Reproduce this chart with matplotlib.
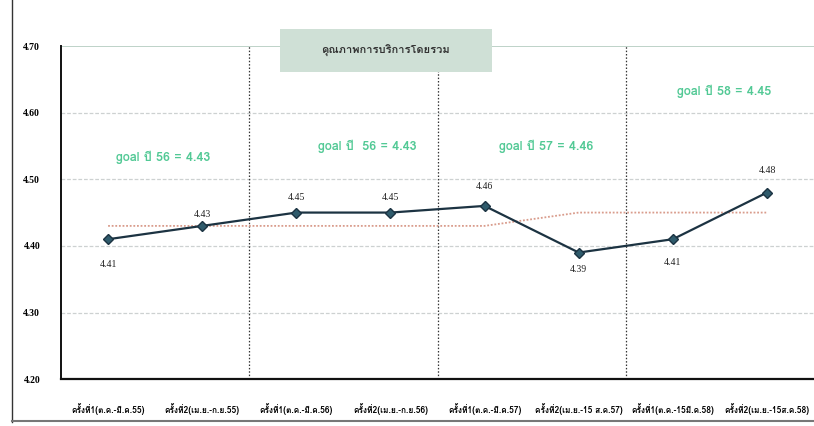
import matplotlib
matplotlib.use("Agg")
import matplotlib.pyplot as plt
from matplotlib import font_manager as fm
from matplotlib.lines import Line2D
from matplotlib.patches import Rectangle

# ---------------- data ----------------
categories = [
    "ครั้งที่1(ต.ค.-มี.ค.55)",
    "ครั้งที่2(เม.ย.-ก.ย.55)",
    "ครั้งที่1(ต.ค.-มี.ค.56)",
    "ครั้งที่2(เม.ย.-ก.ย.56)",
    "ครั้งที่1(ต.ค.-มี.ค.57)",
    "ครั้งที่2(เม.ย.-15 ส.ค.57)",
    "ครั้งที่1(ต.ค.-15มี.ค.58)",
    "ครั้งที่2(เม.ย.-15ส.ค.58)",
]
scores = [4.41, 4.43, 4.45, 4.45, 4.46, 4.39, 4.41, 4.48]
goal = [4.43, 4.43, 4.43, 4.43, 4.43, 4.45, 4.45, 4.45]
goal_texts = ["goal ปี 56 = 4.43", "goal ปี  56 = 4.43", "goal ปี 57 = 4.46", "goal ปี 58 = 4.45"]
goal_text_x = [0.58, 2.75, 4.65, 6.55]
goal_text_y = [4.533, 4.55, 4.55, 4.632]
yticks = [4.20, 4.30, 4.40, 4.50, 4.60, 4.70]
title = "คุณภาพการบริการโดยรวม"
# label offsets in pixels (positive = above the point)
label_offsets = [-25, 11, 15, 15, 19, -17, -23, 22]


def find_thai_font():
    try:
        from fontTools.ttLib import TTFont
    except Exception:
        return None
    for f in fm.fontManager.ttflist:
        try:
            tt = TTFont(f.fname, fontNumber=0, lazy=True)
            cmap = tt.getBestCmap()
            if cmap and 0x0E04 in cmap and 0x0E35 in cmap:
                return f.name
        except Exception:
            pass
    return None


thai = find_thai_font()
fam = ([thai] if thai else []) + ["DejaVu Sans"]
plt.rcParams["font.family"] = fam

fig = plt.figure(figsize=(8.14, 4.26), dpi=100)
ax = fig.add_axes([0.075, 0.110, 0.925, 0.782])

x = list(range(len(categories)))
ax.set_xlim(-0.5, len(categories) - 0.5)
ax.set_ylim(4.20, 4.70)

# grid lines
for yv in yticks[1:-1]:
    ax.axhline(yv, color="#cdd1d1", lw=0.9, ls=(0, (3, 1.5)), zorder=1)
ax.axhline(4.70, color="#b3cbbf", lw=1.2, zorder=1)

# separators
for xv in [1.5, 3.5, 5.5]:
    ax.axvline(xv, color="#333333", lw=0.9, ls=(0, (1.2, 1.5)), zorder=1)

# goal line
ax.plot(x, goal, color="#d99c8c", lw=1.3, ls=(0, (1, 1)), zorder=2)

# main series
ax.plot(x, scores, color="#1c3342", lw=1.6, marker="D", ms=5.5,
        markerfacecolor="#2f5b6c", markeredgecolor="#1c3342", zorder=3)

for i, v in enumerate(scores):
    ax.annotate(f"{v:.2f}", (i, v), xytext=(0, label_offsets[i] * 0.72),
                textcoords="offset points", ha="center", va="center", fontsize=7,
                family=["Liberation Serif"], color="#222222")

for t, tx, ty in zip(goal_texts, goal_text_x, goal_text_y):
    ax.text(tx, ty, t, color="#52c995", fontsize=9, ha="center", va="center",
            fontweight="bold", family=fam)

# axes styling
ax.set_xticks(x)
ax.set_xticklabels(categories, fontsize=6, fontweight="bold", family=fam)
ax.set_yticks(yticks)
ax.set_yticklabels([f"{v:.2f}" for v in yticks], fontsize=7, fontweight="bold",
                   family=["Liberation Serif"])
ax.tick_params(axis="x", length=0, pad=17)
ax.tick_params(axis="y", length=0, pad=15)
for s in ["top", "right"]:
    ax.spines[s].set_visible(False)
ax.spines["left"].set_color("#111111")
ax.spines["left"].set_linewidth(1.4)
ax.spines["bottom"].set_color("#111111")
ax.spines["bottom"].set_linewidth(1.6)

# title box
fig.patches.append(Rectangle((0.344, 0.831), 0.260, 0.101, transform=fig.transFigure,
                             facecolor="#cfe0d6", edgecolor="none", zorder=5))
fig.text(0.474, 0.880, title, ha="center", va="center", fontsize=8,
         fontweight="bold", color="#333333", family=fam, zorder=6)

# outer frame lines
fig.add_artist(Line2D([0.015, 0.015], [0.01, 1.0], transform=fig.transFigure,
                      color="#333333", lw=1.0))
fig.add_artist(Line2D([0.015, 1.0], [0.012, 0.012], transform=fig.transFigure,
                      color="#777777", lw=1.5))

fig.savefig("out.png", dpi=100)
